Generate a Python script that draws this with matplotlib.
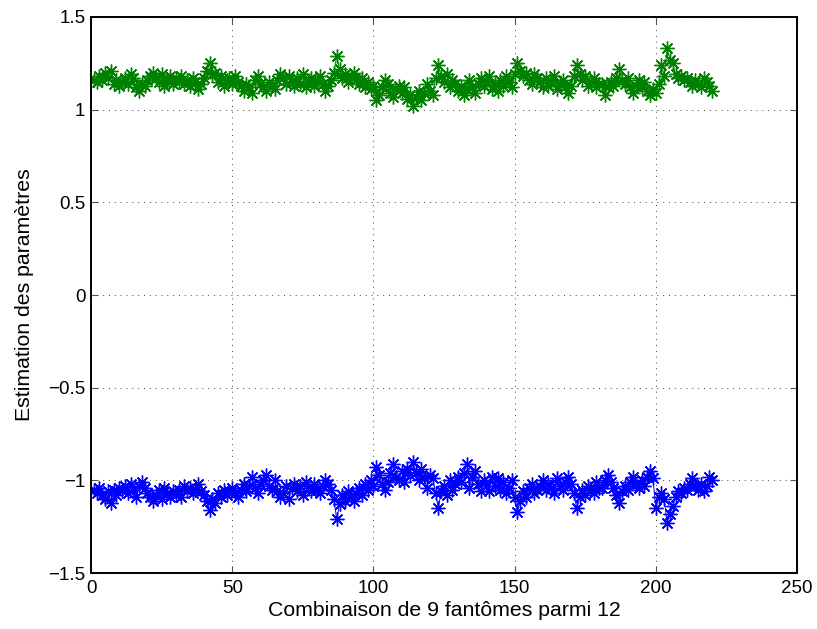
import matplotlib
matplotlib.use("Agg")
import matplotlib.pyplot as plt
import numpy as np

plt.rcParams['font.family'] = ['Liberation Sans', 'DejaVu Sans']

green = [
    1.16, 1.15, 1.18, 1.16, 1.20, 1.17, 1.21, 1.14, 1.16, 1.13,
    1.15, 1.17, 1.14, 1.19, 1.17, 1.12, 1.10, 1.14, 1.13, 1.16,
    1.18, 1.20, 1.17, 1.15, 1.19, 1.13, 1.16, 1.18, 1.14, 1.17,
    1.15, 1.18, 1.14, 1.16, 1.13, 1.17, 1.15, 1.11, 1.14, 1.17,
    1.21, 1.25, 1.19, 1.20, 1.15, 1.18, 1.13, 1.16, 1.17, 1.14,
    1.18, 1.15, 1.13, 1.10, 1.14, 1.12, 1.09, 1.16, 1.18, 1.14,
    1.12, 1.10, 1.15, 1.13, 1.11, 1.16, 1.19, 1.17, 1.14, 1.18,
    1.15, 1.13, 1.17, 1.14, 1.19, 1.12, 1.15, 1.17, 1.13, 1.16,
    1.18, 1.14, 1.10, 1.13, 1.16, 1.20, 1.29, 1.22, 1.17, 1.19,
    1.15, 1.18, 1.20, 1.16, 1.14, 1.17, 1.12, 1.15, 1.11, 1.13,
    1.05, 1.08, 1.12, 1.16, 1.14, 1.09, 1.07, 1.11, 1.13, 1.09,
    1.12, 1.06, 1.08, 1.02, 1.07, 1.10, 1.05, 1.09, 1.14, 1.10,
    1.08, 1.17, 1.24, 1.18, 1.15, 1.19, 1.12, 1.16, 1.14, 1.10,
    1.13, 1.08, 1.11, 1.16, 1.12, 1.09, 1.14, 1.17, 1.13, 1.15,
    1.18, 1.11, 1.14, 1.10, 1.16, 1.13, 1.18, 1.15, 1.12, 1.19,
    1.25, 1.21, 1.18, 1.20, 1.16, 1.14, 1.19, 1.17, 1.15, 1.12,
    1.17, 1.13, 1.15, 1.18, 1.11, 1.14, 1.16, 1.12, 1.09, 1.13,
    1.18, 1.24, 1.19, 1.16, 1.18, 1.13, 1.15, 1.17, 1.12, 1.14,
    1.14, 1.08, 1.12, 1.15, 1.13, 1.17, 1.22, 1.16, 1.14, 1.17,
    1.12, 1.09, 1.13, 1.16, 1.12, 1.15, 1.10, 1.08, 1.11, 1.09,
    1.14, 1.24, 1.18, 1.33, 1.27, 1.25, 1.19, 1.17, 1.18, 1.16,
    1.17, 1.15, 1.13, 1.16, 1.14, 1.12, 1.17, 1.15, 1.13, 1.10,
]

blue = [
    -1.05, -1.07, -1.04, -1.08, -1.10, -1.06, -1.12, -1.05, -1.08, -1.04,
    -1.06, -1.03, -1.07, -1.02, -1.05, -1.09, -1.03, -1.01, -1.04, -1.07,
    -1.09, -1.11, -1.08, -1.05, -1.10, -1.04, -1.07, -1.09, -1.06, -1.08,
    -1.05, -1.09, -1.03, -1.06, -1.04, -1.07, -1.05, -1.02, -1.06, -1.08,
    -1.11, -1.16, -1.10, -1.12, -1.07, -1.09, -1.05, -1.08, -1.06, -1.04,
    -1.07, -1.09, -1.05, -1.02, -1.06, -1.03, -0.98, -1.04, -1.07, -1.02,
    -1.00, -0.97, -1.03, -1.05, -1.00, -1.06, -1.09, -1.07, -1.03, -1.10,
    -1.04, -1.02, -1.06, -1.03, -1.08, -1.01, -1.04, -1.06, -1.02, -1.05,
    -1.07, -1.03, -1.00, -1.02, -1.05, -1.10, -1.21, -1.13, -1.08, -1.11,
    -1.06, -1.09, -1.11, -1.07, -1.04, -1.08, -1.02, -1.05, -1.00, -1.03,
    -0.93, -0.97, -1.02, -1.05, -1.01, -0.96, -0.91, -0.98, -1.00, -0.95,
    -1.01, -0.94, -0.97, -0.90, -0.96, -1.00, -0.94, -0.99, -1.04, -0.97,
    -0.99, -1.07, -1.15, -1.06, -1.03, -1.08, -1.00, -1.05, -1.02, -0.98,
    -1.01, -0.96, -0.91, -1.04, -0.98, -0.95, -1.02, -1.06, -1.00, -1.03,
    -1.06, -0.98, -1.03, -0.99, -1.05, -1.01, -1.07, -1.04, -1.00, -1.09,
    -1.17, -1.11, -1.06, -1.09, -1.04, -1.02, -1.07, -1.05, -1.03, -1.00,
    -1.05, -1.02, -1.04, -1.07, -0.99, -1.03, -1.05, -1.01, -0.98, -1.02,
    -1.07, -1.15, -1.09, -1.05, -1.08, -1.03, -1.05, -1.07, -1.01, -1.04,
    -1.04, -1.00, -0.97, -1.01, -1.04, -1.08, -1.12, -1.06, -1.03, -1.05,
    -1.01, -0.98, -1.02, -1.04, -1.00, -1.03, -0.98, -0.95, -0.99, -1.15,
    -1.09, -1.07, -1.10, -1.23, -1.18, -1.14, -1.09, -1.06, -1.07, -1.04,
    -1.05, -1.02, -0.99, -1.03, -1.05, -1.02, -1.06, -1.03, -0.98, -1.00,
]

xticks = [0, 50, 100, 150, 200, 250]
yticks = [-1.5, -1, -0.5, 0, 0.5, 1, 1.5]
ytick_labels = ['\u22121.5', '\u22121', '\u22120.5', '0', '0.5', '1', '1.5']

x = np.arange(1, len(green) + 1)

fig = plt.figure(figsize=(8.17, 6.29), dpi=100)
ax = fig.add_axes([0.1114, 0.089, 0.8641, 0.884])

ast = (8, 2, 0)
ax.plot(x, blue, color=(0, 0, 1), marker=ast, markersize=10, markeredgewidth=1.0,
        linewidth=0.7)
ax.plot(x, green, color=(0, 0.5, 0), marker=ast, markersize=10, markeredgewidth=1.0,
        linewidth=0.7)

ax.set_xlim(0, 250)
ax.set_ylim(-1.5, 1.5)
ax.set_xticks(xticks)
ax.set_yticks(yticks)
ax.set_yticklabels(ytick_labels)
ax.grid(True, linestyle=(0, (1, 5)), color='#444444', linewidth=0.7)
ax.tick_params(direction='in', labelsize=13.5, top=True, right=True, length=5,
               width=0.8, color='#555555')
ax.tick_params(axis='x', pad=5)
ax.tick_params(axis='y', pad=4)
ax.set_xlabel('Combinaison de 9 fantômes parmi 12', fontsize=15.3, labelpad=3)
ax.set_ylabel('Estimation des paramètres', fontsize=15.3, labelpad=10)
for s in ax.spines.values():
    s.set_linewidth(1.4)

fig.savefig('out.png', dpi=100)
